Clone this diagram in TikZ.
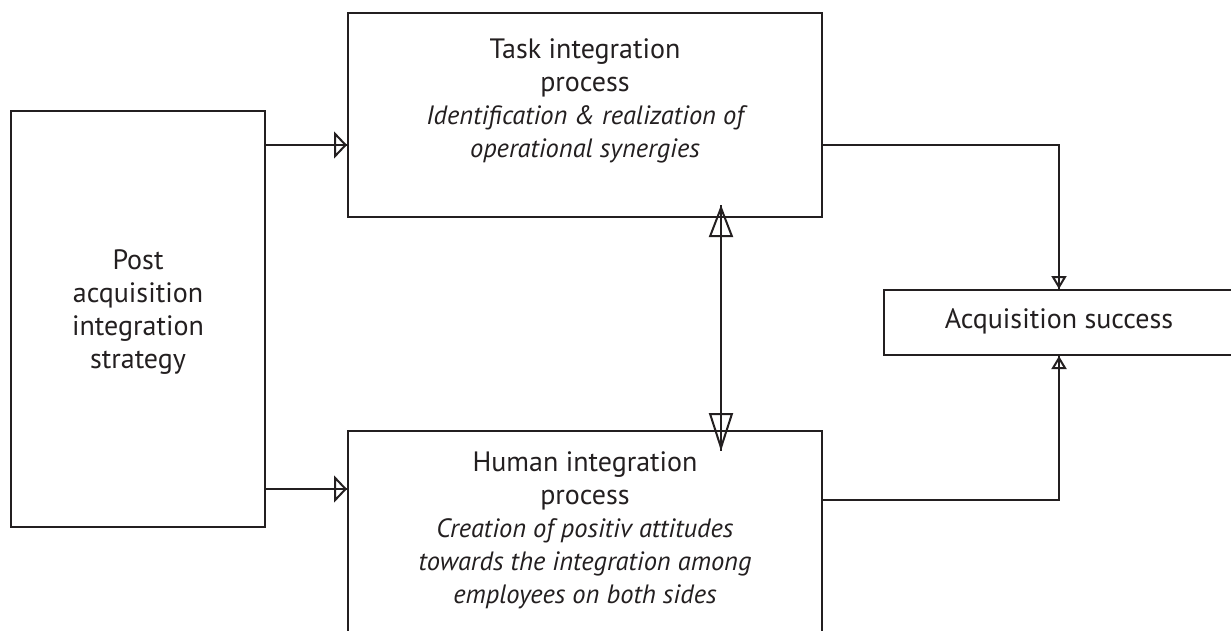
\documentclass[tikz,border=0pt]{standalone}
\usepackage{fontspec}
\setmainfont{PT Sans}
\usetikzlibrary{arrows.meta,calc}
\definecolor{ink}{HTML}{231F20}
\newcommand{\subtxt}{\fontsize{26.5}{33}\selectfont\itshape}
\begin{document}
\begin{tikzpicture}[x=1pt,y=-1pt,
  box/.style={draw=ink,line width=2pt,inner sep=0pt,fill=none},
  txt/.style={text=ink,align=center,inner sep=0pt,font=\fontsize{28}{33}\selectfont},
  line/.style={draw=ink,line width=2pt},
  tipside/.style={draw=ink,line width=2pt,-{Triangle[open,length=13pt,width=27pt]}},
  tipacq/.style={draw=ink,line width=2pt,-{Triangle[open,length=13pt,width=15pt]}},
  tipdbl/.style={draw=ink,line width=2pt,{Triangle[open,length=32pt,width=24pt]}-{Triangle[open,length=38pt,width=24pt]}}]
\useasboundingbox (0,0) rectangle (1231,630);
\clip (0,0) rectangle (1231,630);
% boxes
\node[box,minimum width=254pt,minimum height=416pt] (strat) at (138,319) {};
\node[box,minimum width=474pt,minimum height=204pt] (task) at (585,115) {};
\node[box,minimum width=474pt,minimum height=260pt] (human) at (585,561) {};
\node[box,minimum width=350pt,minimum height=65pt] (acq) at (1059,322.5) {};
% texts
\node[txt] (strattxt) at (138,312.5) {Post\\acquisition\\integration\\strategy};
\node[txt] (tasktxt) at (585,101) {Task integration\\process\\\subtxt Identification \& realization of\\\subtxt operational synergies};
\node[txt] (humantxt) at (585,530.5) {Human integration\\process\\\subtxt Creation of positiv attitudes\\\subtxt towards the integration among\\\subtxt employees on both sides};
\node[txt,anchor=base] (acqtxt) at (1059,328) {Acquisition success};
% connector points
\coordinate (d1) at (721,205);
\coordinate (d2) at (721,451);
\coordinate (c1) at (1059,145);
\coordinate (c2) at (1059,500);
% left arrows
\draw[line] (strat.east |- 0,145) -- (task.west |- 0,145);
\draw[tipside] (strat.east |- 0,145) -- (task.west |- 0,145);
\draw[line] (strat.east |- 0,489) -- (human.west |- 0,489);
\draw[tipside] (strat.east |- 0,489) -- (human.west |- 0,489);
% to acquisition success
\draw[line] (task.east |- c1) -- (c1) -- (acq.north -| c1);
\draw[tipacq] (c1) -- (acq.north -| c1);
\draw[line] (human.east |- c2) -- (c2) -- (acq.south -| c2);
\draw[tipacq] (c2) -- (acq.south -| c2);
% double arrow
\draw[line] (d1) -- (d2);
\draw[tipdbl] (d1) -- (d2);
\end{tikzpicture}
\end{document}
